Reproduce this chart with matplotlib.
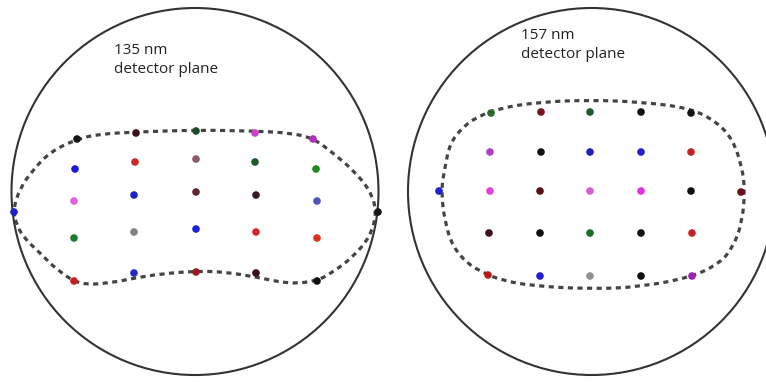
import matplotlib
matplotlib.use("Agg")
import matplotlib.pyplot as plt
from matplotlib.patches import Circle, PathPatch
from matplotlib.path import Path
import numpy as np

# spot positions on each detector plane (image pixel units, y down)
left_x = [77, 136, 196, 255, 313,
          75, 135, 196, 255, 316,
          74, 134, 196, 256, 317,
          74, 134, 196, 256, 317,
          74, 134, 196, 256, 317,
          14, 378]
left_y = [139, 133, 131, 133, 139,
          169, 162, 159, 162, 169,
          201, 195, 192, 195, 201,
          238, 232, 229, 232, 238,
          281, 273, 272, 273, 281,
          212, 212]
left_c = ["#151515", "#3a1018", "#1f4a2a", "#d040d0", "#b030c0",
          "#1c1cd8", "#d02828", "#8a5868", "#1e5a2a", "#1e8a1e",
          "#e060e0", "#2020c8", "#5a2a30", "#3a1a20", "#5050c0",
          "#1e7a2a", "#808080", "#2020e0", "#d02830", "#e03020",
          "#c81e1e", "#2828c0", "#9a1a20", "#3a0f18", "#101010",
          "#2020c8", "#151515"]

right_x = [491, 541, 590, 641, 691,
           490, 541, 590, 641, 691,
           490, 540, 590, 641, 691,
           489, 540, 590, 641, 692,
           488, 540, 590, 641, 692,
           439, 741]
right_y = [113, 112, 112, 112, 113,
           152, 152, 152, 152, 152,
           191, 191, 191, 191, 191,
           233, 233, 233, 233, 233,
           275, 276, 276, 276, 276,
           191, 192]
right_c = ["#2a6a2a", "#7a1020", "#1e5a2a", "#101010", "#151515",
           "#b040c0", "#101010", "#2020c0", "#2020d0", "#c82028",
           "#e040d8", "#5a1018", "#d060d0", "#e030e0", "#101010",
           "#3a1018", "#101010", "#1e6a2a", "#101010", "#c82028",
           "#c01818", "#2020d0", "#909090", "#101010", "#a020b0",
           "#2020d0", "#6a0f18"]

# dashed acceptance contours (control points)
left_curve = [(13, 210), (20, 188), (33, 170), (50, 152), (77, 139), (100, 134),
              (136, 132), (196, 130), (255, 131), (290, 133), (313, 138),
              (333, 153), (353, 170), (370, 190), (377, 212), (370, 237),
              (353, 257), (333, 272), (317, 281), (290, 284), (256, 277),
              (225, 272), (196, 271), (160, 274), (135, 278), (110, 283),
              (80, 285), (57, 270), (40, 253), (23, 237), (16, 223)]
right_curve = [(441, 191), (445, 167), (450, 143), (463, 127), (477, 117),
               (500, 108), (540, 102), (590, 100), (641, 102), (690, 108),
               (717, 122), (733, 140), (742, 167), (745, 191), (742, 223),
               (733, 247), (720, 263), (692, 277), (640, 287), (590, 289),
               (533, 286), (500, 280), (480, 271), (467, 263), (453, 247),
               (445, 223)]

circles = [(195, 191.5, 183.5), (591.5, 191.5, 183.5)]
labels = [("135 nm\ndetector plane", 114, 43), ("157 nm\ndetector plane", 521, 28)]


def smooth_closed(pts):
    # quadratic B-spline through midpoints, closed
    pts = np.asarray(pts, float)
    n = len(pts)
    mids = (pts + np.roll(pts, -1, axis=0)) / 2
    verts = [mids[-1]]
    codes = [Path.MOVETO]
    for i in range(n):
        verts += [pts[i], mids[i]]
        codes += [Path.CURVE3, Path.CURVE3]
    return Path(verts, codes)


fig = plt.figure(figsize=(7.66, 3.82), dpi=100)
ax = fig.add_axes([0, 0, 1, 1])
ax.set_xlim(0, 766)
ax.set_ylim(382, 0)
ax.axis("off")

for cx, cy, r in circles:
    ax.add_patch(Circle((cx, cy), r, fill=False, ec="#333333", lw=1.5))

for crv in (left_curve, right_curve):
    ax.add_patch(PathPatch(smooth_closed(crv), fill=False, ec="#444444",
                           lw=2.3, linestyle=(0, (1.6, 1.4))))

ax.scatter(left_x, left_y, c=left_c, s=30, zorder=3, edgecolors="none")
ax.scatter(right_x, right_y, c=right_c, s=30, zorder=3, edgecolors="none")

for txt, x, y in labels:
    ax.text(x, y, txt, fontsize=11, family="Open Sans", color="#222222",
            ha="left", va="top", linespacing=1.35, fontweight="medium")

fig.savefig("out.png", dpi=100)
